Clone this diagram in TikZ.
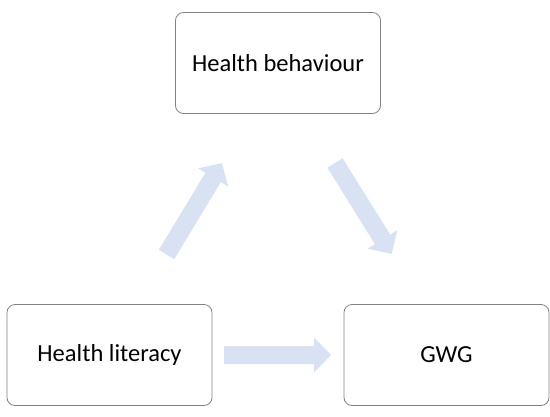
\documentclass[tikz,border=0pt]{standalone}
\usepackage{fontspec}
\setmainfont{Carlito}
\definecolor{boxline}{RGB}{130,130,130}
\definecolor{arrowfill}{RGB}{216,226,243}
\begin{document}
\begin{tikzpicture}[x=1pt,y=-1pt,
  box/.style={draw=boxline, line width=0.8pt, rounded corners=8pt, fill=white,
    minimum width=205pt, minimum height=101pt, font=\fontsize{24.5}{28}\selectfont, text=black},
  blockarrow/.style={fill=arrowfill, draw=none}]
\useasboundingbox (0,0) rectangle (550,416);
\node[box] (hb) at (278,63) {Health behaviour};
\node[box] (hl) at (109.5,355) {Health literacy};
\node[box] (gwg) at (446.5,355) {GWG};
\coordinate (t1) at (166.5,254.5);
\coordinate (t2) at (335,163);
\coordinate (t3) at (224,355);
\foreach \c/\ang in {t1/58.8, t2/-58.1, t3/0}{
  \path[blockarrow, shift={(\c)}, rotate=\ang]
    (0,-9) -- (90,-9) -- (90,-17.5) -- (107,0) -- (90,17.5) -- (90,9) -- (0,9) -- cycle;
}
\end{tikzpicture}
\end{document}
